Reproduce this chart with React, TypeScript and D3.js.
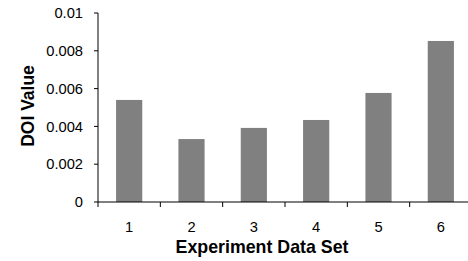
import React from 'react';
import * as d3 from 'd3';

const categories = ['1', '2', '3', '4', '5', '6'];
const doiValues = [0.0054, 0.00333, 0.00392, 0.00434, 0.00577, 0.00852];
const yTicks = [0, 0.002, 0.004, 0.006, 0.008, 0.01];

const W = 468;
const H = 261;
const left = 98;
const top = 13;
const bottom = 202;
const right = 472;

const App = () => {
  const x = d3.scaleBand().domain(categories).range([left, right]).paddingInner(0.58).paddingOuter(0.29);
  const xTickScale = d3.scaleLinear().domain([0, categories.length]).range([left, right]);
  const y = d3.scaleLinear().domain([0, 0.01]).range([bottom, top]);
  const font = 'Arial, "Liberation Sans", sans-serif';

  return (
    <svg width={W} height={H} style={{ position: 'absolute', left: 0, top: 0, background: '#fff' }}>
      {/* barras */}
      {doiValues.map((v, i) => (
        <rect
          key={i}
          x={x(categories[i])}
          y={y(v)}
          width={x.bandwidth()}
          height={y(0) - y(v)}
          fill="#808080"
        />
      ))}

      {/* eje y */}
      <line x1={left} x2={left} y1={top} y2={bottom} stroke="#000" />
      {yTicks.map(t => (
        <g key={t}>
          <line x1={left - 4} x2={left} y1={y(t)} y2={y(t)} stroke="#000" />
          <text x={83} y={y(t)} dy="0.36em" textAnchor="end" fontFamily={font} fontSize={14.7}>
            {String(t)}
          </text>
        </g>
      ))}

      {/* eje x */}
      <line x1={left} x2={right} y1={bottom} y2={bottom} stroke="#000" />
      {d3.range(categories.length + 1).map(i => (
        <line key={i} x1={xTickScale(i)} x2={xTickScale(i)} y1={bottom} y2={bottom + 5} stroke="#000" />
      ))}
      {categories.map(c => (
        <text key={c} x={x(c)! + x.bandwidth() / 2} y={232} textAnchor="middle" fontFamily={font} fontSize={14.7}>
          {c}
        </text>
      ))}

      <text x={262} y={253} textAnchor="middle" fontFamily={font} fontSize={17.8} fontWeight="bold">
        Experiment Data Set
      </text>
      <text
        transform={`translate(34, 106) rotate(-90)`}
        textAnchor="middle"
        fontFamily={font}
        fontSize={17.5}
        fontWeight="bold"
      >
        DOI Value
      </text>
    </svg>
  );
};

export default App;
